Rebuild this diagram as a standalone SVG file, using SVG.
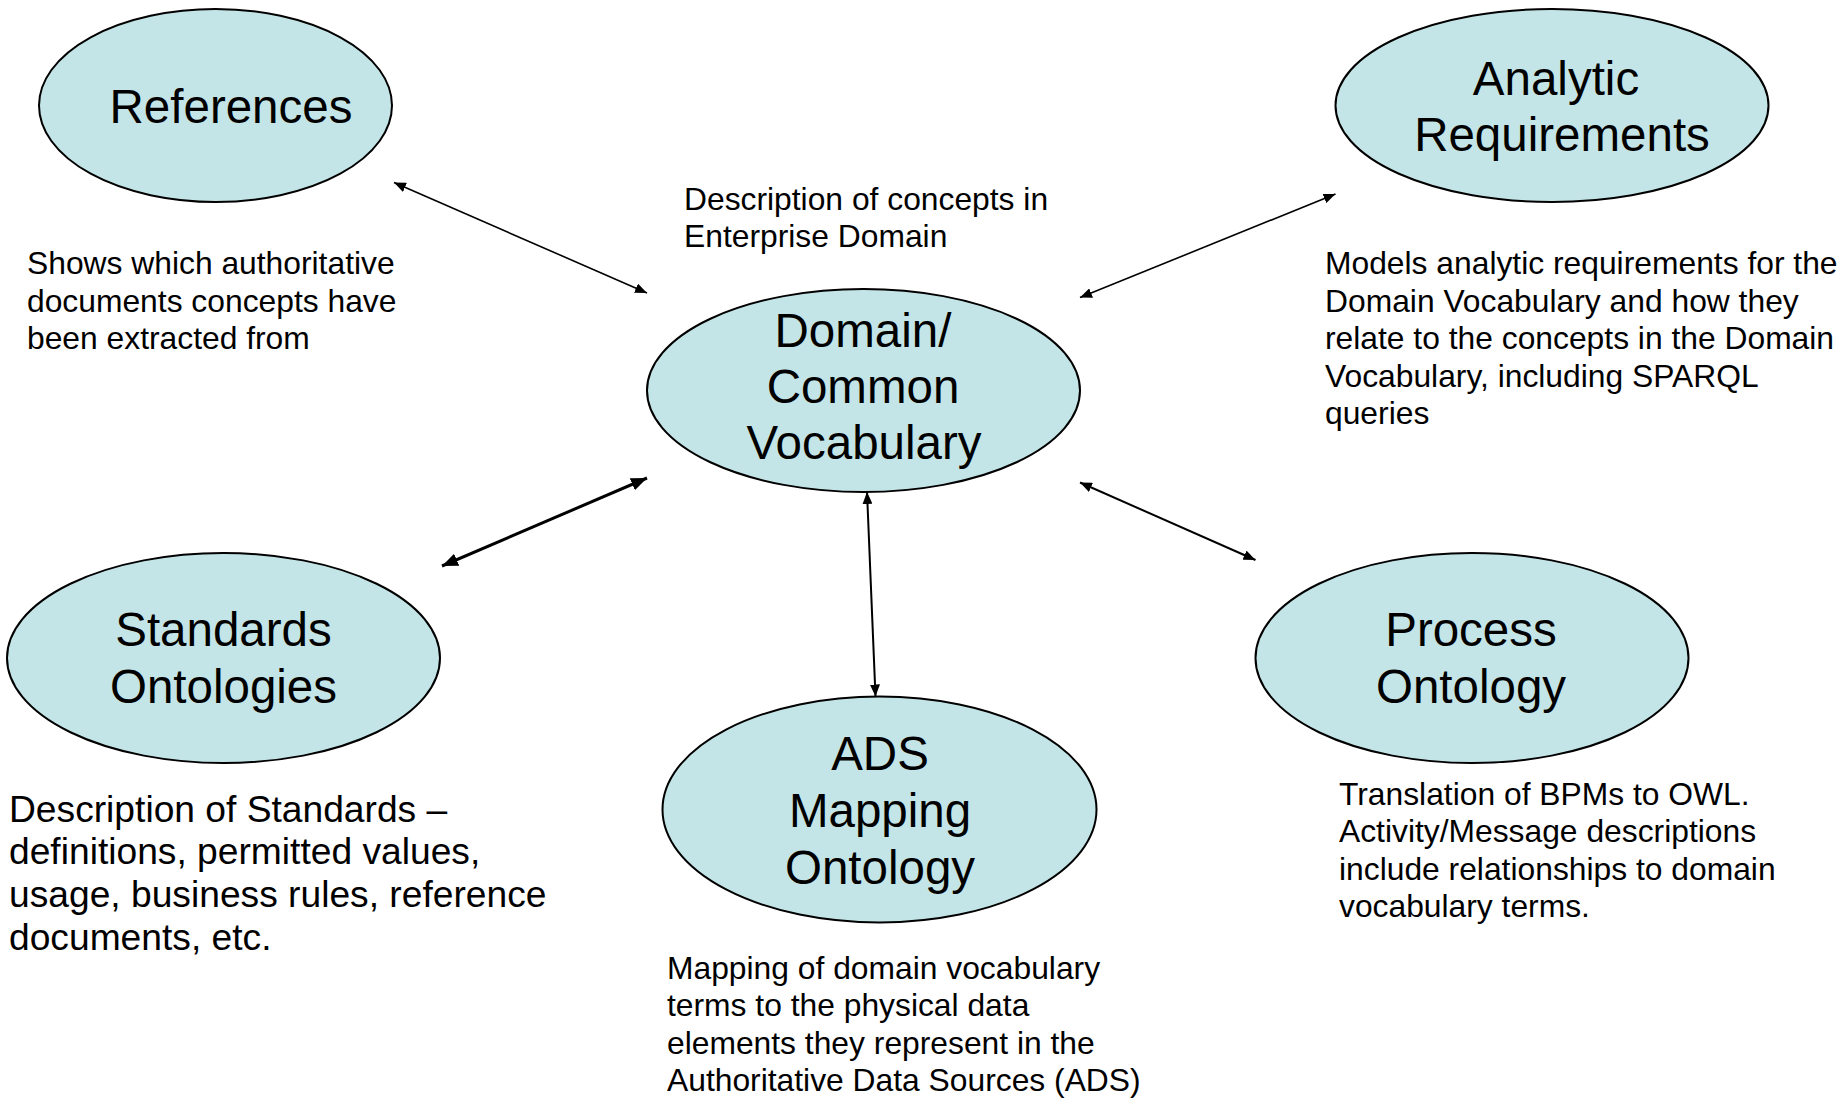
<svg xmlns="http://www.w3.org/2000/svg" width="1845" height="1103" viewBox="0 0 1845 1103">
<style>
.node ellipse{fill:#c4e5e7;stroke:#000;stroke-width:2}
.lbl{font-family:"Liberation Sans",Arial,sans-serif;font-size:47.5px;fill:#000;text-anchor:middle}
.desc{font-family:"Liberation Sans",Arial,sans-serif;font-size:31.8px;fill:#000}
.desc2{font-family:"Liberation Sans",Arial,sans-serif;font-size:37.2px;fill:#000}
.conn line{stroke:#000;fill:none}
</style>
<defs>
<marker id="ah" viewBox="0 0 12 10" refX="12" refY="5" markerWidth="12" markerHeight="10" markerUnits="userSpaceOnUse" orient="auto-start-reverse"><path d="M0,0 L12,5 L0,10 z" fill="#000"/></marker>
<marker id="ahb" viewBox="0 0 16 13" refX="16" refY="6.5" markerWidth="16" markerHeight="13" markerUnits="userSpaceOnUse" orient="auto-start-reverse"><path d="M0,0 L16,6.5 L0,13 z" fill="#000"/></marker>
</defs>
<rect width="1845" height="1103" fill="#fff"/>
<g id="connectors" class="conn">
<line x1="394" y1="182.5" x2="647" y2="293" stroke-width="1.6" marker-start="url(#ah)" marker-end="url(#ah)"/>
<line x1="1335.5" y1="194" x2="1080" y2="297.5" stroke-width="1.6" marker-start="url(#ah)" marker-end="url(#ah)"/>
<line x1="442" y1="566" x2="647" y2="478" stroke-width="3" marker-start="url(#ahb)" marker-end="url(#ahb)"/>
<line x1="867" y1="492" x2="875.5" y2="696.5" stroke-width="2" marker-start="url(#ah)" marker-end="url(#ah)"/>
<line x1="1080" y1="482.5" x2="1255.5" y2="560" stroke-width="2" marker-start="url(#ah)" marker-end="url(#ah)"/>
</g>
<g id="references" class="node">
<ellipse cx="215.5" cy="105.5" rx="176.5" ry="96.5"/>
<text class="lbl" x="231" y="123">References</text>
</g>
<g id="analytic-requirements" class="node">
<ellipse cx="1552" cy="105.5" rx="216.5" ry="96.5"/>
<text class="lbl" x="1556" y="95">Analytic</text>
<text class="lbl" x="1562" y="151">Requirements</text>
</g>
<g id="domain-vocabulary" class="node">
<ellipse cx="863.5" cy="390.5" rx="216.5" ry="101.5"/>
<text class="lbl" x="863" y="347">Domain/</text>
<text class="lbl" x="863" y="403">Common</text>
<text class="lbl" x="864" y="459">Vocabulary</text>
</g>
<g id="standards-ontologies" class="node">
<ellipse cx="223.5" cy="658" rx="216.5" ry="105"/>
<text class="lbl" x="223.5" y="646">Standards</text>
<text class="lbl" x="223.5" y="702.5">Ontologies</text>
</g>
<g id="ads-mapping-ontology" class="node">
<ellipse cx="879.5" cy="809.5" rx="217" ry="113"/>
<text class="lbl" x="880" y="770">ADS</text>
<text class="lbl" x="880" y="827">Mapping</text>
<text class="lbl" x="880" y="884">Ontology</text>
</g>
<g id="process-ontology" class="node">
<ellipse cx="1472" cy="658" rx="216.5" ry="105"/>
<text class="lbl" x="1471" y="646">Process</text>
<text class="lbl" x="1471" y="702.5">Ontology</text>
</g>
<g id="descriptions">
<text class="desc" x="27" y="274"><tspan x="27">Shows which authoritative</tspan><tspan x="27" dy="37.5">documents concepts have</tspan><tspan x="27" dy="37.5">been extracted from</tspan></text>
<text class="desc" x="684" y="209.5"><tspan x="684">Description of concepts in</tspan><tspan x="684" dy="37">Enterprise Domain</tspan></text>
<text class="desc" x="1325" y="274"><tspan x="1325">Models analytic requirements for the</tspan><tspan x="1325" dy="37.5">Domain Vocabulary and how they</tspan><tspan x="1325" dy="37.5">relate to the concepts in the Domain</tspan><tspan x="1325" dy="37.5">Vocabulary, including SPARQL</tspan><tspan x="1325" dy="37.5">queries</tspan></text>
<text class="desc2" x="9" y="821.5"><tspan x="9">Description of Standards –</tspan><tspan x="9" dy="42.7">definitions, permitted values,</tspan><tspan x="9" dy="42.7">usage, business rules, reference</tspan><tspan x="9" dy="42.7">documents, etc.</tspan></text>
<text class="desc" x="667" y="978.5"><tspan x="667">Mapping of domain vocabulary</tspan><tspan x="667" dy="37.5">terms to the physical data</tspan><tspan x="667" dy="37.5">elements they represent in the</tspan><tspan x="667" dy="37.5">Authoritative Data Sources (ADS)</tspan></text>
<text class="desc" x="1339" y="804.5"><tspan x="1339">Translation of BPMs to OWL.</tspan><tspan x="1339" dy="37.5">Activity/Message descriptions</tspan><tspan x="1339" dy="37.5">include relationships to domain</tspan><tspan x="1339" dy="37.5">vocabulary terms.</tspan></text>
</g>
</svg>
